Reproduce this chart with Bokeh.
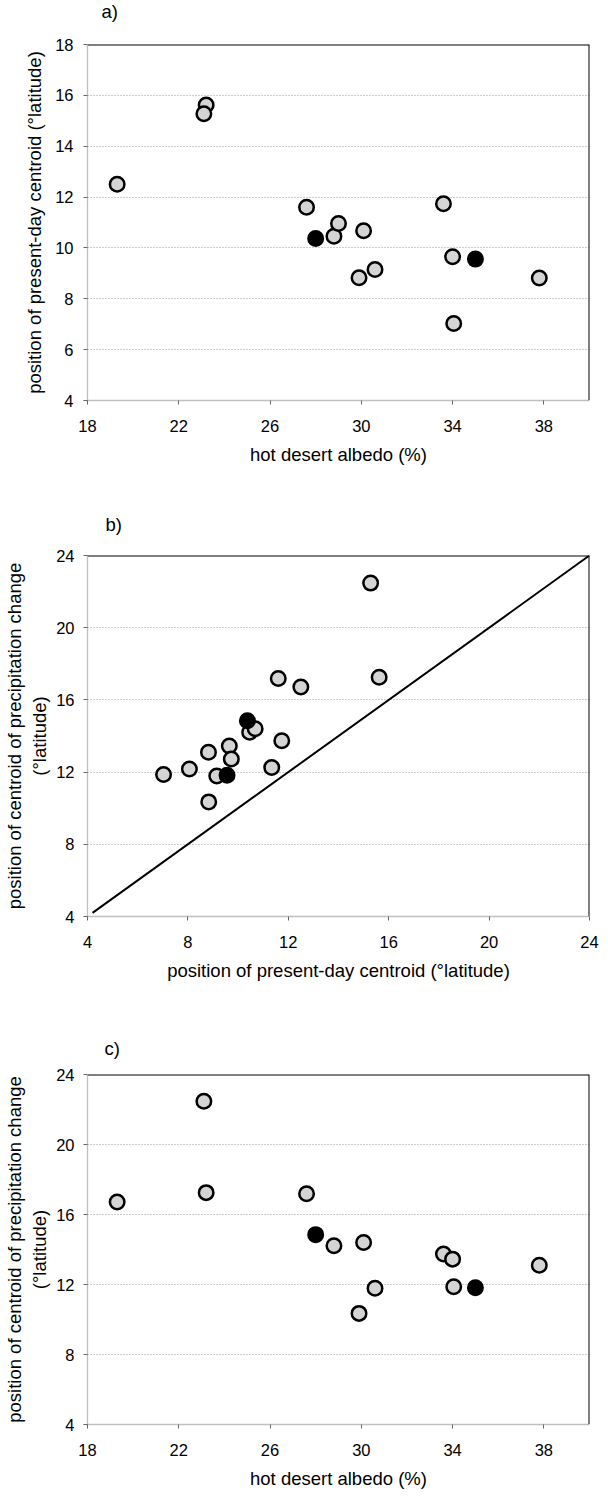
from bokeh.plotting import figure
from bokeh.models import Range1d, Span, FixedTicker
from bokeh.layouts import column
from bokeh.embed import file_html
from bokeh.resources import INLINE

nan = float("nan")

# ---- data ----
# grey models (NaN = value not available for that model)
albedo_grey = [19.3, 23.2, 23.1, 27.6, 28.8, 29.0, 30.1, 29.9, 30.6, 33.6, 34.0, 34.05, 37.8, nan, nan, nan]
present_grey = [12.5, 15.62, 15.28, 11.6, 10.46, 10.96, 10.68, 8.83, 9.15, 11.74, 9.65, 7.03, 8.82, 9.73, 11.34, 8.06]
change_grey = [16.72, 17.25, 22.47, 17.18, 14.21, nan, 14.4, 10.35, 11.79, 13.74, 13.45, 11.87, 13.1, 12.72, 12.26, 12.17]
# black (highlighted) models
albedo_black = [28.0, 35.0]
present_black = [10.37, 9.56]
change_black = [14.85, 11.82]
# 1:1 line in panel b
diag_x = [4.2, 24.0]
diag_y = [4.2, 24.0]

albedo_ticks = [18, 22, 26, 30, 34, 38]
present_ticks_a = [4, 6, 8, 10, 12, 14, 16, 18]
lat_ticks = [4, 8, 12, 16, 20, 24]

FONT = "Liberation Sans"
W = 600


def make(height, xr, yr, xt, yt, xlabel, ylabel, letter, bl, bt, bb, br,
         letter_offset, letter_standoff, ylab_standoff, ytitle_standoff, letter_lh=1.2):
    p = figure(width=W, height=height, x_range=Range1d(*xr), y_range=Range1d(*yr),
               output_backend="svg", toolbar_location=None,
               min_border_left=bl, min_border_right=br, min_border_top=bt, min_border_bottom=bb)
    p.outline_line_color = None
    p.background_fill_color = "white"
    p.xgrid.grid_line_color = None
    p.ygrid.grid_line_color = "#9a9a9a"
    p.ygrid.grid_line_dash = "1 2"
    p.ygrid.grid_line_width = 1
    p.xaxis.ticker = FixedTicker(ticks=xt)
    p.yaxis.ticker = FixedTicker(ticks=yt)
    for ax in (p.xaxis[0], p.yaxis[0]):
        ax.axis_line_color = "#808080"
        ax.axis_line_dash = "1 1"
        ax.axis_line_width = 1.3
        ax.major_tick_line_color = "#666666"
        ax.major_tick_out = 4
        ax.major_tick_in = 0
        ax.minor_tick_line_color = None
        ax.major_label_text_font = FONT
        ax.major_label_text_font_size = "16.5px"
        ax.major_label_text_color = "black"
        ax.axis_label_text_font = FONT
        ax.axis_label_text_font_size = "18.5px"
        ax.axis_label_text_font_style = "normal"
        ax.axis_label_text_color = "black"
    p.xaxis.axis_label = xlabel
    p.yaxis.axis_label = ylabel
    p.xaxis.major_label_standoff = 15
    p.xaxis.axis_label_standoff = 9
    p.yaxis.axis_label_standoff = ytitle_standoff
    p.yaxis.major_label_standoff = ylab_standoff
    # top and right frame borders in solid black
    p.add_layout(Span(location=yr[1], dimension="width", line_color="black", line_width=2))
    p.add_layout(Span(location=xr[1], dimension="height", line_color="black", line_width=2))
    # panel letter as the title
    p.title.text = letter
    p.title.align = "left"
    p.title.vertical_align = "top"
    p.title.offset = letter_offset
    p.title.standoff = letter_standoff
    p.title.text_font = FONT
    p.title.text_font_size = "18.5px"
    p.title.text_font_style = "normal"
    p.title.text_color = "black"
    p.title.text_line_height = letter_lh
    return p


def points(p, xs, ys, fill):
    p.scatter(xs, ys, marker="circle", size=14.5, fill_color=fill,
              line_color="black", line_width=2.5)


# panel a  (page y 8 -> 500)
pa = make(492, (18, 40), (4, 18), albedo_ticks, present_ticks_a,
          "hot desert albedo (%)", "position of present-day centroid (°latitude)", "a)\n",
          bl=68, bt=43, bb=92, br=10, letter_offset=14, letter_standoff=0,
          ylab_standoff=10, ytitle_standoff=7, letter_lh=1.0)
points(pa, albedo_grey, present_grey, "#d4d4d4")
points(pa, albedo_black, present_black, "black")

# panel b  (page y 500 -> 1030)
pb = make(530, (4, 24), (4, 24), lat_ticks, lat_ticks,
          "position of present-day centroid (°latitude)",
          "position of centroid of precipitation change\n(°latitude)", "b)",
          bl=83, bt=63, bb=106, br=7, letter_offset=18, letter_standoff=38,
          ylab_standoff=9, ytitle_standoff=3)
pb.line(diag_x, diag_y, line_color="black", line_width=2)
points(pb, present_grey, change_grey, "#d4d4d4")
points(pb, present_black, change_black, "black")

# panel c  (page y 1030 -> 1499)
pc = make(469, (18, 40), (4, 24), albedo_ticks, lat_ticks,
          "hot desert albedo (%)",
          "position of centroid of precipitation change\n(°latitude)", "c)",
          bl=80, bt=52, bb=57, br=11, letter_offset=17, letter_standoff=28,
          ylab_standoff=9, ytitle_standoff=3)
points(pc, albedo_grey, change_grey, "#d4d4d4")
points(pc, albedo_black, change_black, "black")

layout = column(pa, pb, pc, spacing=0)
open("out.html", "w").write(file_html(layout, INLINE))
